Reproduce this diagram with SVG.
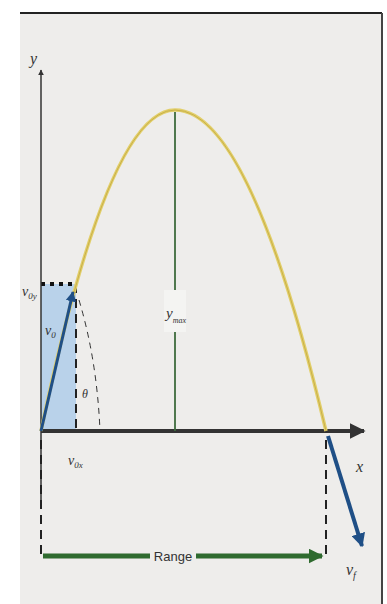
<svg xmlns="http://www.w3.org/2000/svg" width="387" height="604" viewBox="0 0 387 604">
<style>
.lbl{font-family:"Liberation Serif",serif;font-style:italic;fill:#333}
.ax{stroke:#333;fill:none}
.dash{stroke:#222;stroke-width:2;stroke-dasharray:9,6;fill:none}
</style>
<defs>
<marker id="ah" viewBox="0 0 10 10" refX="9" refY="5" markerWidth="4" markerHeight="4" orient="auto"><path d="M0,0 L10,5 L0,10 z" fill="#333"/></marker>
<marker id="ahb" viewBox="0 0 10 10" refX="9" refY="5" markerWidth="3.5" markerHeight="3.5" orient="auto"><path d="M0,0 L10,5 L0,10 z" fill="#1f4f86"/></marker>
<marker id="ahg" viewBox="0 0 10 10" refX="9" refY="5" markerWidth="3" markerHeight="3" orient="auto"><path d="M0,0 L10,5 L0,10 z" fill="#2f6b2f"/></marker>
</defs>
<rect x="0" y="0" width="387" height="604" fill="#ffffff"/>
<rect x="20" y="13" width="362" height="591" fill="#eeedeb"/>
<line x1="20" y1="13" x2="382" y2="13" stroke="#222" stroke-width="2"/>
<line x1="382" y1="13" x2="382" y2="604" stroke="#444" stroke-width="2"/>

<g id="box">
<rect x="41" y="284" width="35" height="147" fill="#b9d2ea"/>
<line x1="41" y1="284" x2="76" y2="284" stroke="#111" stroke-width="4" stroke-dasharray="4,5"/>
<line x1="76" y1="284" x2="76" y2="431" class="dash"/>
</g>

<g id="connectors">
<line x1="41" y1="500" x2="41" y2="70" class="ax" stroke-width="1.5" marker-end="url(#ah)"/>
<line x1="41" y1="431" x2="364" y2="431" stroke="#333" stroke-width="4" marker-end="url(#ah)"/>
<path d="M41,431 Q108,110 175,110 Q250,110 326,431" fill="none" stroke="#e2cf6a" stroke-width="3.5"/>
<path d="M41,431 Q108,110 175,110 Q250,110 326,431" fill="none" stroke="#c9b04a" stroke-width="1"/>
<line x1="175" y1="112" x2="175" y2="431" stroke="#3d6b3d" stroke-width="1.8"/>
<line x1="41" y1="431" x2="73" y2="292" stroke="#1f4f86" stroke-width="3" marker-end="url(#ahb)"/>
<path d="M79,300 Q97,360 100,431" fill="none" stroke="#333" stroke-width="1" stroke-dasharray="6,5"/>
<line x1="41" y1="440" x2="41" y2="556" class="dash"/>
<line x1="326" y1="440" x2="326" y2="556" class="dash"/>
<line x1="328" y1="436" x2="362" y2="546" stroke="#1f4f86" stroke-width="4" marker-end="url(#ahb)"/>
<line x1="43" y1="556" x2="150" y2="556" stroke="#2f6b2f" stroke-width="5"/>
<line x1="196" y1="556" x2="322" y2="556" stroke="#2f6b2f" stroke-width="5" marker-end="url(#ahg)"/>
</g>

<rect x="164" y="290" width="22" height="42" fill="#f4f4f2"/>
<text class="lbl" x="30" y="64" font-size="16">y</text>
<text class="lbl" x="22" y="296" font-size="14">v<tspan font-size="9" dy="3">0y</tspan></text>
<text class="lbl" x="45" y="335" font-size="14">v<tspan font-size="9" dy="3">0</tspan></text>
<text class="lbl" x="82" y="398" font-size="12">θ</text>
<text class="lbl" x="68" y="465" font-size="14">v<tspan font-size="9" dy="3">0x</tspan></text>
<text class="lbl" x="166" y="318" font-size="15">y<tspan font-size="8" dy="5">max</tspan></text>
<text class="lbl" x="356" y="472" font-size="16">x</text>
<text x="173" y="561" font-size="13" font-family="Liberation Sans, sans-serif" fill="#333" text-anchor="middle">Range</text>
<text class="lbl" x="346" y="575" font-size="16">v<tspan font-size="10" dy="4">f</tspan></text>
</svg>
